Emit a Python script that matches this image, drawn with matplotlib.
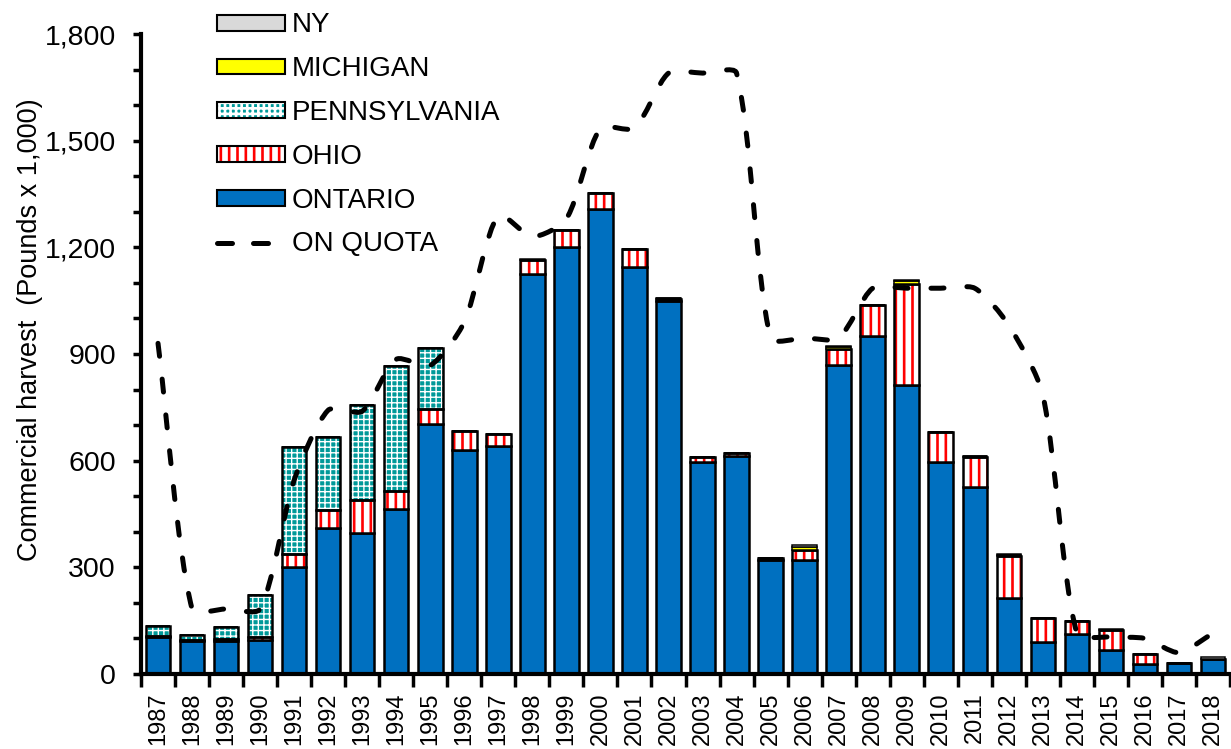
import numpy as np
import matplotlib
matplotlib.use("Agg")
import matplotlib.pyplot as plt
from matplotlib.patches import Patch
from matplotlib.lines import Line2D
from matplotlib.legend_handler import HandlerTuple
from matplotlib.path import Path
from matplotlib.patches import PathPatch
from matplotlib.ticker import FuncFormatter, MultipleLocator

plt.rcParams['font.family'] = ['Liberation Sans', 'DejaVu Sans']
plt.rcParams['hatch.linewidth'] = 1.9

years = list(range(1987, 2019))
ontario = [103, 93, 93, 96, 300, 411, 396, 463, 702, 630, 641, 1125, 1200, 1307, 1145, 1048,
           597, 612, 322, 320, 870, 951, 814, 597, 526, 213, 91, 112, 67, 28, 32, 42]
ohio = [4, 3, 5, 8, 37, 50, 93, 52, 43, 53, 33, 40, 50, 45, 49, 6,
        13, 10, 3, 30, 45, 86, 284, 84, 85, 119, 66, 38, 57, 28, 0, 0]
pennsylvania = [28, 14, 35, 118, 302, 206, 267, 351, 171, 0, 0, 0, 0, 0, 0, 0,
                0, 0, 0, 0, 0, 0, 0, 0, 0, 0, 0, 0, 0, 0, 0, 0]
michigan = [0, 0, 0, 0, 0, 0, 0, 0, 0, 0, 0, 0, 0, 0, 0, 3,
            0, 0, 0, 8, 5, 0, 7, 0, 2, 3, 0, 0, 0, 0, 0, 0]
ny = [0, 0, 0, 0, 0, 0, 0, 0, 0, 0, 0, 3, 0, 0, 0, 0,
      0, 0, 0, 4, 3, 0, 4, 0, 0, 2, 0, 0, 3, 0, 0, 6]
on_quota = [930, 183, 183, 183, 545, 742, 739, 885, 868, 990, 1290, 1230, 1280, 1535, 1535, 1690,
            1690, 1690, 945, 945, 945, 1085, 1085, 1085, 1085, 981, 785, 115, 104, 100, 60, 115]

C_ON = '#0070C0'
C_PA = '#009999'
C_MI = '#FFFF00'
C_NY = '#D9D9D9'

fig = plt.figure(figsize=(12.31, 7.49), dpi=100)
ax = fig.add_axes([141/1231, 75/749, 1089/1231, 640/749])

x = np.arange(len(years))
w = 0.72
lw = 1.8

ont = np.array(ontario, float)
oh = np.array(ohio, float)
pa = np.array(pennsylvania, float)
mi = np.array(michigan, float)
nyv = np.array(ny, float)

# Ontario
ax.bar(x, ont, w, color=C_ON, edgecolor='black', linewidth=lw, zorder=2)
# Ohio: red hatch on white, then black outline
b1 = ont
ax.bar(x, oh, w, bottom=b1, color='white', edgecolor='red', linewidth=0, hatch='||', zorder=2)
ax.bar(x, oh, w, bottom=b1, fill=False, edgecolor='black', linewidth=lw, zorder=3)
# Pennsylvania: teal with white checker
b2 = b1 + oh
with plt.rc_context({'hatch.linewidth': 1.0}):
    ax.bar(x, pa, w, bottom=b2, color=C_PA, edgecolor='white', linewidth=0, hatch='+++', zorder=2)
    h_pa_fill = Patch(facecolor=C_PA, edgecolor='white', linewidth=0, hatch='+++')
ax.bar(x, pa, w, bottom=b2, fill=False, edgecolor='black', linewidth=lw, zorder=3)
# Michigan
b3 = b2 + pa
ax.bar(x, mi, w, bottom=b3, color=C_MI, edgecolor='black', linewidth=lw * 0.6, zorder=3)
# NY
b4 = b3 + mi
ax.bar(x, nyv, w, bottom=b4, color=C_NY, edgecolor='black', linewidth=lw * 0.6, zorder=3)

ax.set_xlim(-0.5, len(years) - 0.5)
ax.set_ylim(0, 1800)

# Smoothed quota line (Excel-like chord-weighted smoothing in display space)
q = np.array(on_quota, float)
pts = ax.transData.transform(np.column_stack([x, q]))
n = len(pts)
f = 0.25
cin = np.zeros_like(pts)
cout = np.zeros_like(pts)
for i in range(n):
    a = pts[max(i - 1, 0)]
    b = pts[min(i + 1, n - 1)]
    T = b - a
    dp = np.hypot(*(pts[i] - a))
    dn = np.hypot(*(b - pts[i]))
    tot = dp + dn if dp + dn > 0 else 1
    if i == 0 or i == n - 1:
        T = T * 0.5
        cout[i] = pts[i] + T * f * 2 * (1 if i == 0 else 0)
        cin[i] = pts[i] - T * f * 2 * (1 if i == n - 1 else 0)
    else:
        cout[i] = pts[i] + T * f * dn / tot
        cin[i] = pts[i] - T * f * dp / tot
verts = [pts[0]]
codes = [Path.MOVETO]
for i in range(n - 1):
    verts += [cout[i], cin[i + 1], pts[i + 1]]
    codes += [Path.CURVE4] * 3
dverts = ax.transData.inverted().transform(np.array(verts))
pp = PathPatch(Path(dverts, codes), fill=False, edgecolor='black', linewidth=3.6,
               linestyle=(0, (2.6, 4.6)), capstyle='round', zorder=5)
ax.add_patch(pp)

# Axes styling
for s in ['top', 'right']:
    ax.spines[s].set_visible(False)
ax.spines['left'].set_linewidth(3)
ax.spines['bottom'].set_linewidth(3)
ax.spines['bottom'].set_zorder(6)

ax.set_yticks(np.arange(0, 1801, 300))
ax.yaxis.set_minor_locator(MultipleLocator(100))
ax.yaxis.set_major_formatter(FuncFormatter(lambda v, p: f"{int(v):,}"))
ax.tick_params(axis='y', which='major', length=6, width=2.5, labelsize=20.5, pad=12)
ax.tick_params(axis='y', which='minor', length=6, width=2.5)

ax.set_xticks(x)
ax.set_xticklabels([str(y) for y in years], rotation=90, fontsize=17)
ax.tick_params(axis='x', which='major', length=0, pad=13)
ax.set_xticks(np.arange(-0.5, len(years), 1.0), minor=True)
ax.tick_params(axis='x', which='minor', length=9, width=2.5)

fig.text(30/1231, 1 - 330/749, "Commercial harvest  (Pounds x 1,000)", rotation=90,
         ha='center', va='center', fontsize=19.5)

# Legend
h_ny = Patch(facecolor=C_NY, edgecolor='black', linewidth=1.5)
h_mi = Patch(facecolor=C_MI, edgecolor='black', linewidth=1.5)
h_pa = (h_pa_fill, Patch(fill=False, edgecolor='black', linewidth=1.5))
h_oh = (Patch(facecolor='white', edgecolor='red', linewidth=0, hatch='||'),
        Patch(fill=False, edgecolor='black', linewidth=1.5))
h_on = Patch(facecolor=C_ON, edgecolor='black', linewidth=1.5)
h_q = Line2D([], [], color='black', linewidth=3.6, linestyle=(0, (3.0, 4.2)), dash_capstyle='round')
leg = ax.legend([h_ny, h_mi, h_pa, h_oh, h_on, h_q],
                ['NY', 'MICHIGAN', 'PENNSYLVANIA', 'OHIO', 'ONTARIO', 'ON QUOTA'],
                handler_map={tuple: HandlerTuple(ndivide=1, pad=0)},
                loc='upper left', bbox_to_anchor=(76/1089, 1 + 21.5/640),
                frameon=False, fontsize=20, handlelength=2.45, handleheight=0.5,
                handletextpad=0.25, labelspacing=0.64, borderaxespad=0, borderpad=0)

fig.savefig("out.png", dpi=100)
